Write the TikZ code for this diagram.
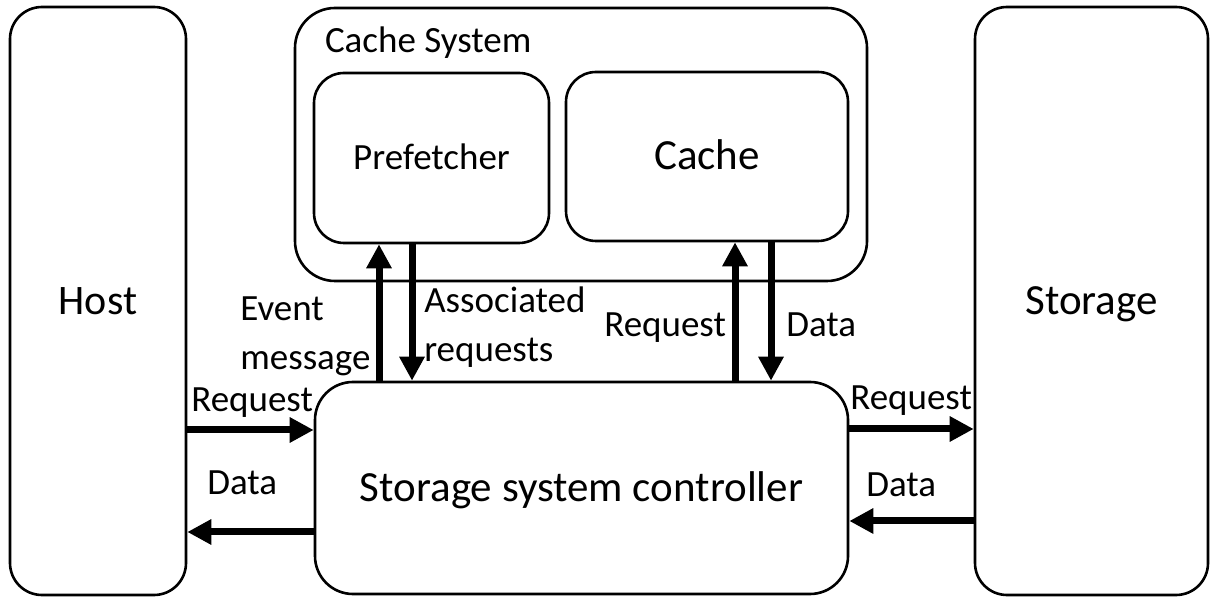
\documentclass[tikz,border=0pt]{standalone}
\usepackage{fontspec}
\setmainfont{Carlito}
\usetikzlibrary{arrows.meta}

\tikzset{every picture/.style={line width=2.6pt}}
\tikzset{
  block/.style={draw, rounded corners=32pt, inner sep=0pt, text height=27pt, text depth=0pt},
  lbl/.style={inner sep=0pt, font=\fontsize{37}{49}\selectfont},
  flow/.style={line width=7pt, -{Triangle[length=24pt,width=24pt]}}
}

\begin{document}
\begin{tikzpicture}[x=1pt,y=1pt]
\useasboundingbox (0,0) rectangle (1214,599);

% blocks
\node[block, minimum width=176, minimum height=588, font=\fontsize{42}{50}\selectfont] (host) at (98,298) {Host};
\node[block, minimum width=233, minimum height=588, font=\fontsize{43}{50}\selectfont] (storage) at (1091.5,298) {Storage};
\node[block, minimum width=533, minimum height=212, rounded corners=38pt, font=\fontsize{43}{50}\selectfont] (ctrl) at (581.5,111) {Storage system controller};
\node[block, minimum width=572, minimum height=273, rounded corners=40pt] (cachesys) at (581,454.5) {};
\node[block, minimum width=235, minimum height=170, rounded corners=30pt, text height=23.3pt, font=\fontsize{37}{45}\selectfont] (pref) at (431.5,441) {Prefetcher};
\node[block, minimum width=282, minimum height=169, rounded corners=30pt, font=\fontsize{43}{50}\selectfont] (cache) at (707,442.5) {Cache};
\node[lbl, anchor=base west] (cslbl) at ([xshift=30,yshift=-46]cachesys.north west) {Cache System};

% host <-> controller
\draw[flow] ([yshift=58]ctrl.west -| host.east) -- ([yshift=58]ctrl.west);
\draw[flow] ([yshift=-44]ctrl.west) -- ([yshift=-44]ctrl.west -| host.east);
% controller <-> storage
\draw[flow] ([yshift=59]ctrl.east) -- ([yshift=59]ctrl.east -| storage.west);
\draw[flow] ([yshift=-33]ctrl.east -| storage.west) -- ([yshift=-33]ctrl.east);
% controller <-> prefetcher
\draw[flow] ([xshift=-52.5]pref.south |- ctrl.north) -- ([xshift=-52.5]pref.south);
\draw[flow] ([xshift=-19.5]pref.south) -- ([xshift=-19.5]pref.south |- ctrl.north);
% controller <-> cache
\draw[flow] ([xshift=28]cache.south |- ctrl.north) -- ([xshift=28]cache.south);
\draw[flow] ([xshift=64]cache.south) -- ([xshift=64]cache.south |- ctrl.north);

% labels
\node[lbl, anchor=base west] (hreq) at (190,187) {Request};
\node[lbl, anchor=base west] (hdata) at (206,104) {Data};
\node[lbl, anchor=base west] (sreq) at (849,189) {Request};
\node[lbl, anchor=base west] (sdata) at (865,102) {Data};
\node[lbl, anchor=north west, align=left] (evlbl) at (239,304) {Event\\message};
\node[lbl, anchor=north west, align=left] (aslbl) at (423,313) {Associated\\requests};
\node[lbl, anchor=base west] (creq) at (603,262) {Request};
\node[lbl, anchor=base west] (cdata) at (785,262) {Data};

\end{tikzpicture}
\end{document}
